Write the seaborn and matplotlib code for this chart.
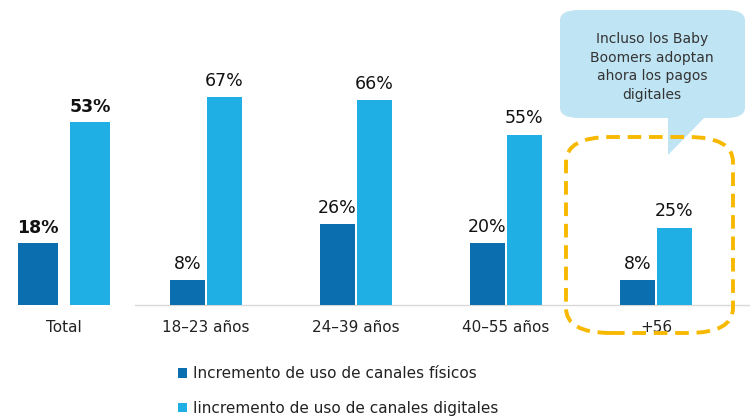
import matplotlib
matplotlib.use("Agg")
import matplotlib.pyplot as plt
import seaborn as sns
import pandas as pd
from matplotlib.patches import FancyBboxPatch, Polygon

categories = ["Total", "18–23 años", "24–39 años", "40–55 años", "+56"]
fisicos = [18, 8, 26, 20, 8]
digitales = [53, 67, 66, 55, 25]
series = ["Incremento de uso de canales físicos", "Iincremento de uso de canales digitales"]
callout = "Incluso los Baby\nBoomers adoptan\nahora los pagos\ndigitales"

dark = "#0b6eae"
light = "#1fafe4"

sns.set_theme(style="white")
plt.rcParams["font.family"] = ["DejaVu Sans"]

df = pd.DataFrame({
    "cat": categories * 2,
    "val": fisicos + digitales,
    "serie": [series[0]] * len(categories) + [series[1]] * len(categories),
})
df_total = df[df["cat"] == categories[0]]
df_age = df[df["cat"] != categories[0]]

W, H = 750, 418
fig = plt.figure(figsize=(W / 100, H / 100), dpi=100)

def fx(px): return px / W
def fy(py): return 1 - py / H

xstep = 150
base_from_bottom = H - 305

# --- Total panel (its own scale, as in the original) ---
ax0 = fig.add_axes([0, 0, 1, 1])
sns.barplot(data=df_total, x="cat", y="val", hue="serie", order=categories[:1],
            hue_order=series, palette=[dark, light], width=0.693, gap=0.23,
            saturation=1, linewidth=0, ax=ax0, legend=False)
c0 = 64
ax0.set_xlim(-c0 / xstep, (W - c0) / xstep)
s0 = 3.45
ax0.set_ylim(-base_from_bottom / s0, (H - base_from_bottom) / s0)
ax0.axis("off")
ax0.patch.set_alpha(0)
for cont_i, cont in enumerate(ax0.containers):
    v = fisicos[0] if cont_i == 0 else digitales[0]
    bar = cont[0]
    ax0.text(bar.get_x() + bar.get_width() / 2, v + 1.8, f"{v}%", ha="center",
             va="bottom", fontsize=12.5, fontweight="bold", color="#111111")
ax0.text(0, -4.3, categories[0], ha="center", va="top", fontsize=11, color="#222222")

# --- Age groups panel ---
ax = fig.add_axes([0, 0, 1, 1])
ax.patch.set_alpha(0)
sns.barplot(data=df_age, x="cat", y="val", hue="serie", order=categories[1:],
            hue_order=series, palette=[dark, light], width=0.493, gap=0.054,
            saturation=1, linewidth=0, ax=ax, legend=True)
c1 = 206
ax.set_xlim(-c1 / xstep, (W - c1) / xstep)
scale = 3.1
ax.set_ylim(-base_from_bottom / scale, (H - base_from_bottom) / scale)
ax.axis("off")

ax.plot([(135 - c1) / xstep, (W - c1) / xstep], [0, 0], color="#d9d9d9", lw=1, zorder=0)

for cont_i, cont in enumerate(ax.containers):
    vals = (fisicos if cont_i == 0 else digitales)[1:]
    for bar, v in zip(cont, vals):
        cx = bar.get_x() + bar.get_width() / 2
        ax.text(cx, v + 2.4, f"{v}%", ha="center", va="bottom",
                fontsize=12.5, color="#111111")

for i, c in enumerate(categories[1:]):
    ax.text(i, -4.8, c, ha="center", va="top", fontsize=11, color="#222222")

handles, labels = ax.get_legend_handles_labels()
leg = ax.legend(handles, labels, loc="upper left", bbox_to_anchor=(172 / W, 1 - 360 / H),
                bbox_transform=fig.transFigure, frameon=False, fontsize=11,
                handlelength=0.6, handleheight=0.6, handletextpad=0.4,
                labelspacing=1.3, borderaxespad=0)
for t in leg.get_texts():
    t.set_color("#222222")

# callout bubble
bubble = FancyBboxPatch((fx(560), fy(118)), fx(745) - fx(560), fy(10) - fy(118),
                        boxstyle="round,pad=0,rounding_size=0.025",
                        transform=fig.transFigure, facecolor="#bfe4f3",
                        edgecolor="none", zorder=1)
fig.patches.append(bubble)
tail = Polygon([(fx(668), fy(117)), (fx(705), fy(117)), (fx(668), fy(155))],
               closed=True, transform=fig.transFigure, facecolor="#bfe4f3",
               edgecolor="none", zorder=1)
fig.patches.append(tail)
fig.text(fx(652), fy(67), callout, ha="center", va="center", fontsize=10,
         color="#333333", linespacing=1.45)

# dashed highlight
box = FancyBboxPatch((fx(566), fy(333)), fx(733) - fx(566), fy(137) - fy(333),
                     boxstyle="round,pad=0,rounding_size=0.06",
                     transform=fig.transFigure, facecolor="none",
                     edgecolor="#f7b900", lw=2.8, linestyle=(0, (3.5, 2)), zorder=3)
fig.patches.append(box)

fig.savefig("out.png", dpi=100, facecolor="white")
